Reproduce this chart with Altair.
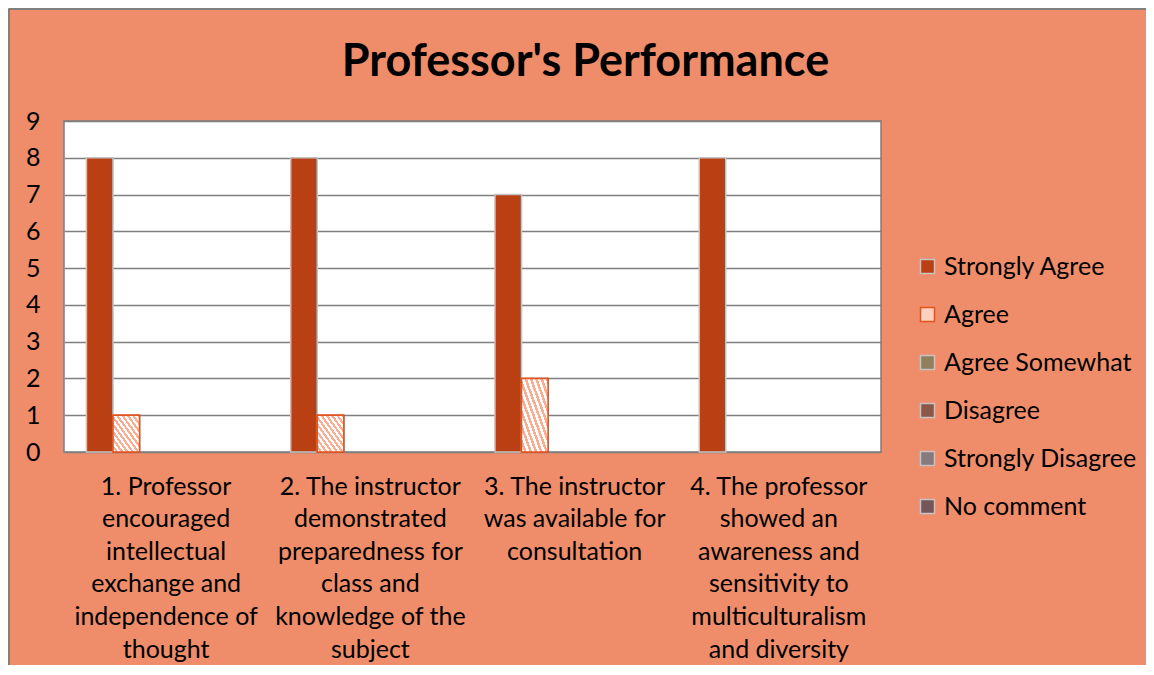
import altair as alt
import pandas as pd

questions = [
    "1. Professor\nencouraged\nintellectual\nexchange and\nindependence of\nthought",
    "2. The instructor\ndemonstrated\npreparedness for\nclass and\nknowledge of the\nsubject",
    "3. The instructor\nwas available for\nconsultation",
    "4. The professor\nshowed an\nawareness and\nsensitivity to\nmulticulturalism\nand diversity",
]
series = ["Strongly Agree", "Agree", "Agree Somewhat", "Disagree", "Strongly Disagree", "No comment"]
strongly_agree = [8, 8, 7, 8]
agree = [1, 1, 2, 0]
agree_somewhat = [0, 0, 0, 0]
disagree = [0, 0, 0, 0]
strongly_disagree = [0, 0, 0, 0]
no_comment = [0, 0, 0, 0]

fills = ["#BA3F13", "#FBD0BE", "#8F7F5D", "#8A5748", "#857A7E", "#76555A"]
strokes = ["#C4C4C4", "#E4521E", "#C4C4C4", "#C4C4C4", "#C4C4C4", "#C4C4C4"]

rows = []
for s, vals in zip(series, [strongly_agree, agree, agree_somewhat, disagree, strongly_disagree, no_comment]):
    for q, v in zip(questions, vals):
        rows.append({"question": q, "series": s, "value": v})
df = pd.DataFrame(rows)

FONT = "Lato"
FS = 25

stops = []
n = 10
for i in range(n):
    a, b = i / n, (i + 0.5) / n
    stops.append(alt.GradientStop(offset=a, color="#FFFFFF"))
    stops.append(alt.GradientStop(offset=b, color="#FFFFFF"))
    stops.append(alt.GradientStop(offset=b, color="#F8AE93"))
    stops.append(alt.GradientStop(offset=(i + 1) / n, color="#F8AE93"))
hatch_grad = alt.LinearGradient(gradient="linear", stops=stops, x1=0, y1=1, x2=1, y2=0)

legend = alt.Legend(
    title=None, orient="none", legendX=851, legendY=133,
    symbolType="square", symbolSize=196, symbolStrokeWidth=1.5,
    labelFontSize=FS, labelFont=FONT, labelColor="#000000", rowPadding=22,
    labelOffset=4, labelLimit=400,
)

base = alt.Chart(df).transform_filter("datum.value > 0").encode(
    x=alt.X(
        "question:N", sort=questions, title=None,
        scale=alt.Scale(paddingInner=0.22, paddingOuter=0.11),
        axis=alt.Axis(
            labelAngle=0, labelExpr="split(datum.label, '\\n')",
            labelFontSize=FS, labelFont=FONT, labelColor="#000000",
            labelLineHeight=32.6, labelPadding=22, ticks=False, domain=False,
            labelLimit=400, labelBaseline="top",
        ),
    ),
    xOffset=alt.XOffset("series:N", sort=series, scale=alt.Scale(domain=series, paddingInner=0, paddingOuter=0)),
    y=alt.Y(
        "value:Q", title=None, scale=alt.Scale(domain=[0, 9], nice=False),
        axis=alt.Axis(
            values=list(range(10)), labelFontSize=FS, labelFont=FONT, labelColor="#000000",
            labelPadding=24, ticks=False, domain=False, grid=True,
            gridColor="#7F7F7F", gridWidth=1.5,
        ),
    ),
)

bars = base.mark_bar(strokeWidth=1.5).encode(
    color=alt.Color("series:N", scale=alt.Scale(domain=series, range=fills), legend=legend),
    stroke=alt.Stroke("series:N", scale=alt.Scale(domain=series, range=strokes), legend=legend),
)

hatch = base.transform_filter("datum.series == 'Agree'").mark_bar(
    fill=hatch_grad, stroke="#E4521E", strokeWidth=1.5
)

one = alt.Data(values=[{"k": 0}])
left_border = alt.Chart(one).mark_rule(color="#7F7F7F", strokeWidth=2).encode(
    x=alt.value(-55), y=alt.value(-112), y2=alt.value(700)
)
top_border = alt.Chart(one).mark_rule(color="#7F7F7F", strokeWidth=2).encode(
    x=alt.value(-55), x2=alt.value(1200), y=alt.value(-112)
)

chart = alt.layer(bars, hatch, left_border, top_border).properties(
    width=817, height=331,
    title=alt.Title(
        "Professor's Performance", fontSize=45, font=FONT, fontWeight="bold",
        color="#000000", anchor="middle", dx=113, offset=-77, frame="group",
    ),
    autosize=alt.AutoSizeParams(type="none"),
    padding={"left": 56, "top": 113, "right": 265, "bottom": 213},
    background="#EF8D6B",
).configure_view(fill="#FFFFFF", stroke="#7F7F7F", strokeWidth=1.5)

chart.save("out.html", embed_options={"renderer": "svg", "actions": False})
